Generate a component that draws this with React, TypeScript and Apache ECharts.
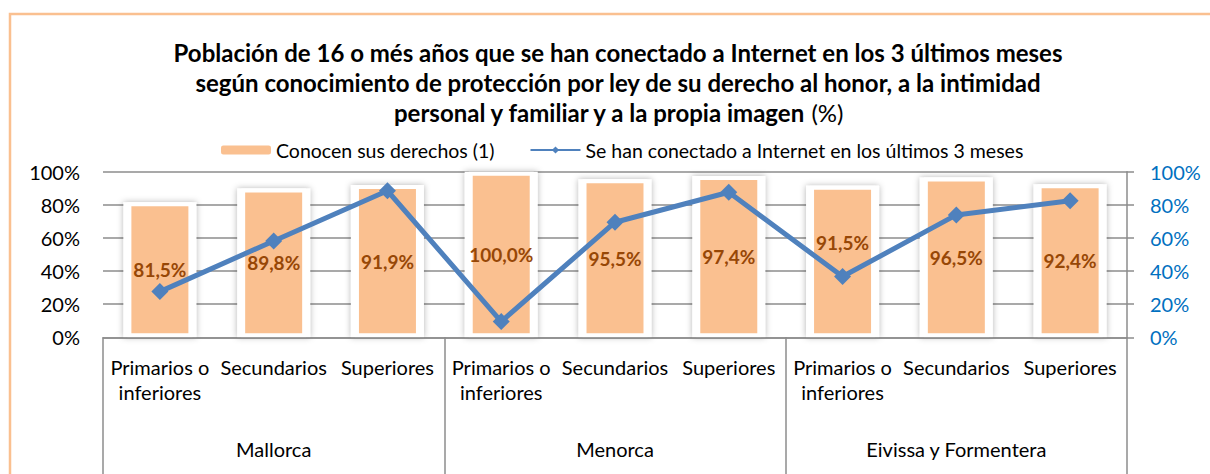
import React, { useEffect, useRef } from "react";
import * as echarts from "echarts";

const subCategories = [
  "Primarios o\ninferiores", "Secundarios", "Superiores",
  "Primarios o\ninferiores", "Secundarios", "Superiores",
  "Primarios o\ninferiores", "Secundarios", "Superiores",
];
const groups = ["Mallorca", "Menorca", "Eivissa y Formentera"];
const conocenValues = [81.5, 89.8, 91.9, 100.0, 95.5, 97.4, 91.5, 96.5, 92.4];
const conectadoValues = [27.6, 58.2, 88.5, 9.5, 69.5, 87.6, 36.7, 73.9, 82.5];
const axisTicks = [0, 20, 40, 60, 80, 100];

const FONT = "Lato, 'Open Sans', sans-serif";
const GRID_GRAY = "#8c8c8c";
const BAR_NAME = "Conocen sus derechos (1)";
const LINE_NAME = "Se han conectado a Internet en los últimos 3 meses";

export default function App() {
  const ref = useRef<HTMLDivElement>(null);
  useEffect(() => {
    if (!ref.current) return;
    const chart = echarts.init(ref.current, null, { renderer: "svg" });
    const barData = conocenValues.map((v, i) => ({
      value: v,
      label: i === 6 ? { offset: [0, -19] } : undefined,
    }));
    chart.setOption({
      animation: false,
      textStyle: { fontFamily: FONT },
      title: {
        text:
          "Población de 16 o més años que se han conectado a Internet en los 3 últimos meses\nsegún conocimiento de protección por ley de su derecho al honor, a la intimidad\npersonal y familiar y a la propia imagen {n|(%)}",
        left: 613,
        top: 32,
        textAlign: "center",
        textStyle: {
          fontFamily: FONT,
          fontWeight: "bold",
          fontSize: 24,
          lineHeight: 30,
          color: "#000",
          rich: {
            n: { fontFamily: FONT, fontWeight: "normal", fontSize: 24, lineHeight: 30, color: "#000" },
          },
        },
      },
      legend: {
        top: 135,
        left: 216,
        itemWidth: 50,
        itemHeight: 9,
        itemGap: 35,
        textStyle: { fontFamily: FONT, fontSize: 19.5, color: "#000" },
        data: [
          { name: BAR_NAME, itemStyle: { borderWidth: 0, shadowBlur: 0 } },
          { name: LINE_NAME },
        ],
      },
      graphic: [
        {
          type: "rect",
          shape: { x: 10, y: 14, width: 1400, height: 700 },
          style: { fill: "none", stroke: "#FAC090", lineWidth: 2.5 },
          silent: true,
        },
      ],
      grid: { left: 103, right: 83, top: 171.7, bottom: 136.7 },
      xAxis: [
        {
          type: "category",
          data: subCategories,
          position: "bottom",
          z: 5,
          axisLine: { show: true, lineStyle: { color: GRID_GRAY, width: 1.5 } },
          axisTick: { show: false },
          axisLabel: {
            interval: 0,
            margin: 17,
            fontFamily: FONT,
            fontSize: 20,
            lineHeight: 25,
            color: "#000",
          },
        },
        {
          type: "category",
          data: groups,
          position: "bottom",
          z: 5,
          axisLine: { show: false },
          axisTick: { show: true, length: 160, lineStyle: { color: GRID_GRAY, width: 1.5 } },
          axisLabel: {
            interval: 0,
            margin: 99,
            fontFamily: FONT,
            fontSize: 20,
            lineHeight: 25,
            color: "#000",
          },
        },
        {
          type: "category",
          data: subCategories,
          position: "bottom",
          show: false,
        },
      ],
      yAxis: [
        {
          type: "value",
          min: axisTicks[0],
          max: axisTicks[axisTicks.length - 1],
          interval: 20,
          axisLine: { show: false },
          axisTick: { show: false },
          splitLine: { show: true, lineStyle: { color: GRID_GRAY, width: 1.5 } },
          axisLabel: {
            formatter: "{value}%",
            margin: 23,
            fontFamily: FONT,
            fontSize: 20,
            color: "#000",
          },
        },
        {
          type: "value",
          min: axisTicks[0],
          max: axisTicks[axisTicks.length - 1],
          interval: 20,
          position: "right",
          z: 5,
          axisLine: { show: true, lineStyle: { color: GRID_GRAY, width: 1.5 } },
          axisTick: { show: true, length: 7, lineStyle: { color: GRID_GRAY, width: 1.5 } },
          splitLine: { show: false },
          axisLabel: {
            formatter: "{value}%",
            margin: 23,
            fontFamily: FONT,
            fontSize: 20,
            color: "#0070C0",
          },
        },
      ],
      series: [
        {
          name: "glow",
          type: "bar",
          data: conocenValues,
          xAxisIndex: 2,
          yAxisIndex: 0,
          barWidth: 73,
          z: 1,
          silent: true,
          itemStyle: {
            color: "#ffffff",
            shadowColor: "rgba(0,0,0,0.3)",
            shadowBlur: 6,
          },
        },
        {
          name: BAR_NAME,
          type: "bar",
          data: barData,
          xAxisIndex: 0,
          yAxisIndex: 0,
          barWidth: 65,
          z: 2,
          itemStyle: {
            color: "#FAC090",
            borderColor: "#ffffff",
            borderWidth: 4,
          },
          label: {
            show: true,
            position: "inside",
            formatter: (p: any) => p.value.toFixed(1).replace(".", ",") + "%",
            fontFamily: FONT,
            fontWeight: "bold",
            fontSize: 19,
            color: "#974706",
          },
        },
        {
          name: LINE_NAME,
          type: "line",
          data: conectadoValues,
          xAxisIndex: 0,
          yAxisIndex: 1,
          z: 4,
          symbol: "diamond",
          symbolSize: 17,
          lineStyle: { color: "#4F81BD", width: 5 },
          itemStyle: { color: "#4F81BD" },
        },
      ],
    });
    return () => chart.dispose();
  }, []);
  return (
    <div
      ref={ref}
      style={{ position: "absolute", left: 0, top: 0, width: 1210, height: 474 }}
    />
  );
}
